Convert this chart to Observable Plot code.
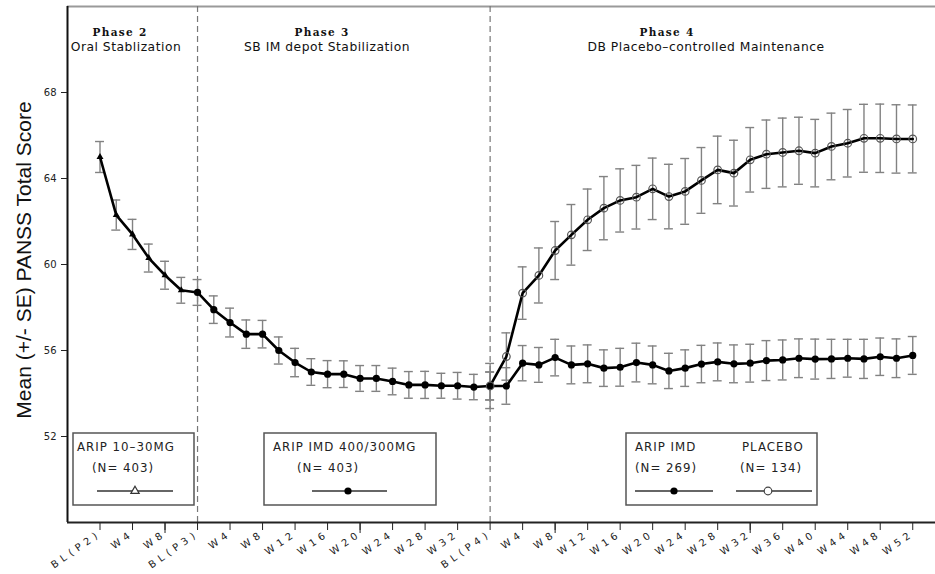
<!DOCTYPE html>
<html><head><meta charset="utf-8">
<script src="https://cdn.jsdelivr.net/npm/d3@7"></script>
<script src="https://cdn.jsdelivr.net/npm/@observablehq/plot@0.6"></script>
<style>
body{margin:0;background:#fff;}
#wrap{position:relative;width:935px;height:574px;overflow:hidden;background:#fff;}
g[aria-label="x-axis tick label"] text{letter-spacing:4.3px;}
</style></head><body><div id="wrap"></div>
<script>
// ---- Data ----
// Phase 2: oral stabilization (weeks from BL(P2))
const p2Weeks = [0, 2, 4, 6, 8, 10];
const p2Mean  = [65.0, 62.3, 61.4, 60.3, 59.5, 58.8];
const p2SE    = [0.72, 0.70, 0.70, 0.65, 0.65, 0.60];
// Phase 3: single-blind IM depot stabilization (weeks from BL(P3))
const p3Weeks = [0, 2, 4, 6, 8, 10, 12, 14, 16, 18, 20, 22, 24, 26, 28, 30, 32, 34, 36];
const p3Mean  = [58.7, 57.9, 57.3, 56.76, 56.76, 56.0, 55.44, 55.0, 54.9, 54.9, 54.7, 54.7, 54.56, 54.4, 54.4, 54.36, 54.36, 54.3, 54.35];
const p3SE    = [0.60, 0.64, 0.67, 0.66, 0.64, 0.63, 0.66, 0.62, 0.63, 0.62, 0.60, 0.60, 0.62, 0.62, 0.63, 0.58, 0.62, 0.59, 0.65];
// Phase 4: double-blind placebo-controlled maintenance (weeks from BL(P4))
const p4Weeks = [0, 2, 4, 6, 8, 10, 12, 14, 16, 18, 20, 22, 24, 26, 28, 30, 32, 34, 36, 38, 40, 42, 44, 46, 48, 50, 52];
const arpMean = [54.35, 54.35, 55.41, 55.33, 55.67, 55.33, 55.38, 55.18, 55.22, 55.44, 55.33, 55.05, 55.18, 55.37, 55.47, 55.38, 55.41, 55.53, 55.56, 55.64, 55.60, 55.61, 55.64, 55.61, 55.71, 55.64, 55.77];
const arpSE   = [0.65, 0.85, 0.82, 0.81, 0.85, 0.88, 0.88, 0.85, 0.88, 0.90, 0.88, 0.82, 0.85, 0.87, 0.88, 0.88, 0.88, 0.93, 0.93, 0.90, 0.93, 0.91, 0.88, 0.91, 0.87, 0.90, 0.88];
const plbMean = [54.35, 55.72, 58.67, 59.49, 60.65, 61.38, 62.08, 62.62, 62.98, 63.13, 63.52, 63.16, 63.40, 63.91, 64.40, 64.25, 64.87, 65.13, 65.21, 65.29, 65.18, 65.49, 65.64, 65.87, 65.87, 65.84, 65.84];
const plbSE   = [1.05, 1.10, 1.22, 1.28, 1.35, 1.41, 1.43, 1.47, 1.47, 1.48, 1.43, 1.50, 1.53, 1.53, 1.57, 1.53, 1.50, 1.59, 1.60, 1.56, 1.57, 1.55, 1.57, 1.58, 1.59, 1.59, 1.58];
// Start of each phase on the continuous week axis
const phaseStart = {p2: 0, p3: 12, p4: 48};
const phaseBoundaries = [12, 48];
// Axis ticks
const xTickWeeks  = [0, 4, 8, 12, 16, 20, 24, 28, 32, 36, 40, 44, 48, 52, 56, 60, 64, 68, 72, 76, 80, 84, 88, 92, 96, 100];
const xTickLabels = ["BL(P2)","W4","W8","BL(P3)","W4","W8","W12","W16","W20","W24","W28","W32","BL(P4)","W4","W8","W12","W16","W20","W24","W28","W32","W36","W40","W44","W48","W52"];
const xMajorTicks = [8, 32, 56, 80];
const yTicks = [52, 56, 60, 64, 68];
const phaseTitles = ["Phase 2", "Phase 3", "Phase 4"];
const phaseSubtitles = ["Oral Stablization", "SB IM depot Stabilization", "DB Placebo\u2013controlled Maintenance"];
const legendLabels = ["ARIP 10\u201330MG", "ARIP IMD 400/300MG", "ARIP IMD", "PLACEBO"];
const legendNs = ["(N= 403)", "(N= 403)", "(N= 269)", "(N= 134)"];
const yTitle = "Mean (+/- SE) PANSS Total Score";

// ---- Build tables ----
const openRows = [
  ...p2Weeks.map((w, i) => ({x: w + phaseStart.p2, m: p2Mean[i], se: p2SE[i], phase: 2})),
  ...p3Weeks.map((w, i) => ({x: w + phaseStart.p3, m: p3Mean[i], se: p3SE[i], phase: 3}))
];
const arpRows = p4Weeks.map((w, i) => ({x: w + phaseStart.p4, m: arpMean[i], se: arpSE[i]}));
const plbRows = p4Weeks.map((w, i) => ({x: w + phaseStart.p4, m: plbMean[i], se: plbSE[i]}));
const allRows = [...openRows, ...arpRows, ...plbRows];
const labelMap = new Map(xTickWeeks.map((w, i) => [w, xTickLabels[i]]));

const barColor = "#828282";
const capHalf = 0.55;

const chart = Plot.plot({
  width: 935, height: 574,
  marginLeft: 67, marginRight: 0, marginTop: 6, marginBottom: 52,
  x: {domain: [-4, 102.8]},
  y: {domain: [48, 72]},
  style: {fontFamily: "'DejaVu Sans', sans-serif", fontSize: "10px", color: "#222", background: "white", overflow: "visible"},
  marks: [
    Plot.ruleY([72], {stroke: "#9a9a9a", strokeWidth: 2}),
    Plot.ruleX(phaseBoundaries, {stroke: "#777", strokeWidth: 1.2, strokeDasharray: "6,4"}),
    Plot.ruleX(allRows, {x: "x", y1: d => d.m - d.se, y2: d => d.m + d.se, stroke: barColor, strokeWidth: 1.4}),
    Plot.ruleY(allRows, {y: d => d.m + d.se, x1: d => d.x - capHalf, x2: d => d.x + capHalf, stroke: barColor, strokeWidth: 1.4}),
    Plot.ruleY(allRows, {y: d => d.m - d.se, x1: d => d.x - capHalf, x2: d => d.x + capHalf, stroke: barColor, strokeWidth: 1.4}),
    Plot.line(openRows, {x: "x", y: "m", stroke: "#000", strokeWidth: 2.6}),
    Plot.line(arpRows, {x: "x", y: "m", stroke: "#000", strokeWidth: 2.6}),
    Plot.line(plbRows, {x: "x", y: "m", stroke: "#000", strokeWidth: 2.6}),
    Plot.dot(openRows.filter(d => d.phase === 2), {x: "x", y: "m", symbol: "triangle", r: 2.6, fill: "#000"}),
    Plot.dot(openRows.filter(d => d.phase === 3), {x: "x", y: "m", r: 3.6, fill: "#000"}),
    Plot.dot(arpRows, {x: "x", y: "m", r: 3.6, fill: "#000"}),
    Plot.dot(plbRows, {x: "x", y: "m", r: 3.8, fill: "none", stroke: "#555", strokeWidth: 1.2}),
    Plot.ruleX([-4], {stroke: "#111", strokeWidth: 2}),
    Plot.ruleY([48], {stroke: "#222", strokeWidth: 2}),
    Plot.axisY({ticks: yTicks, tickSize: 6, tickPadding: 5, label: null, fontSize: 10}),
    Plot.axisX({ticks: xTickWeeks, tickFormat: d => labelMap.get(d), tickSize: 8, tickPadding: 2, tickRotate: -35, label: null, fontSize: 10}),
    Plot.axisX({ticks: xMajorTicks, tickFormat: () => "", tickSize: 11, label: null})
  ]
});
document.getElementById("wrap").appendChild(chart);

// ---- Annotations (phase headers, y title, legend boxes) ----
const svg = d3.select(chart);
const ann = svg.append("g").attr("text-anchor", "start");
const phaseTitlePos = [[120, 36], [322, 36], [667, 36]];
const phaseSubPos = [[126, 51], [327, 51], [706, 51]];
phaseTitles.forEach((t, i) => {
  ann.append("text").attr("x", phaseTitlePos[i][0]).attr("y", phaseTitlePos[i][1])
    .attr("text-anchor", "middle").attr("font-family", "'DejaVu Serif', serif").attr("font-weight", "bold")
    .attr("font-size", 10.5).attr("letter-spacing", "1.3px").attr("fill", "#111").text(t);
  ann.append("text").attr("x", phaseSubPos[i][0]).attr("y", phaseSubPos[i][1])
    .attr("text-anchor", "middle").attr("font-family", "'DejaVu Sans', sans-serif")
    .attr("font-size", 12.3).attr("letter-spacing", "0.5px").attr("fill", "#111").text(phaseSubtitles[i]);
});
ann.append("text").attr("transform", "translate(31,260) rotate(-90)")
  .attr("text-anchor", "middle").attr("font-family", "'Liberation Sans', Arial, sans-serif")
  .attr("font-size", 21).attr("fill", "#111").text(yTitle);

const boxes = [
  {x: 73, y: 433, w: 121, h: 72},
  {x: 264, y: 433, w: 172, h: 72},
  {x: 626, y: 433, w: 191, h: 72}
];
// legend entries: box index, label x, N x, sample line x1/x2, marker x, marker type
const entries = [
  {b: 0, tx: 77, nx: 92, l1: 97, l2: 173, mx: 135, sym: "tri"},
  {b: 1, tx: 273, nx: 297, l1: 312, l2: 387, mx: 348, sym: "dot"},
  {b: 2, tx: 635, nx: 635, l1: 635, l2: 713, mx: 674, sym: "dot"},
  {b: 2, tx: 742, nx: 740, l1: 736, l2: 812, mx: 768, sym: "circ"}
];
boxes.forEach(b => {
  ann.append("rect").attr("x", b.x).attr("y", b.y).attr("width", b.w).attr("height", b.h)
    .attr("fill", "#fff").attr("stroke", "#555").attr("stroke-width", 1.5);
});
entries.forEach((e, i) => {
  const b = boxes[e.b];
  ann.append("text").attr("x", e.tx).attr("y", b.y + 18).attr("text-anchor", "start").attr("font-family", "'DejaVu Sans', sans-serif")
    .attr("font-size", 11.8).attr("letter-spacing", "1px").attr("fill", "#222").text(legendLabels[i]);
  ann.append("text").attr("x", e.nx).attr("y", b.y + 39).attr("text-anchor", "start").attr("font-family", "'DejaVu Sans', sans-serif")
    .attr("font-size", 11.8).attr("letter-spacing", "1px").attr("fill", "#222").text(legendNs[i]);
  const ly = b.y + 58;
  ann.append("line").attr("x1", e.l1).attr("x2", e.l2).attr("y1", ly).attr("y2", ly)
    .attr("stroke", "#333").attr("stroke-width", 1.3);
  if (e.sym === "dot") ann.append("circle").attr("cx", e.mx).attr("cy", ly).attr("r", 3.6).attr("fill", "#000");
  if (e.sym === "circ") ann.append("circle").attr("cx", e.mx).attr("cy", ly).attr("r", 3.8).attr("fill", "#fff").attr("stroke", "#444").attr("stroke-width", 1.2);
  if (e.sym === "tri") ann.append("path").attr("d", d3.symbol(d3.symbolTriangle, 30)()).attr("transform", `translate(${e.mx},${ly})`)
    .attr("fill", "#fff").attr("stroke", "#333").attr("stroke-width", 1.2);
});
</script>
</body></html>
